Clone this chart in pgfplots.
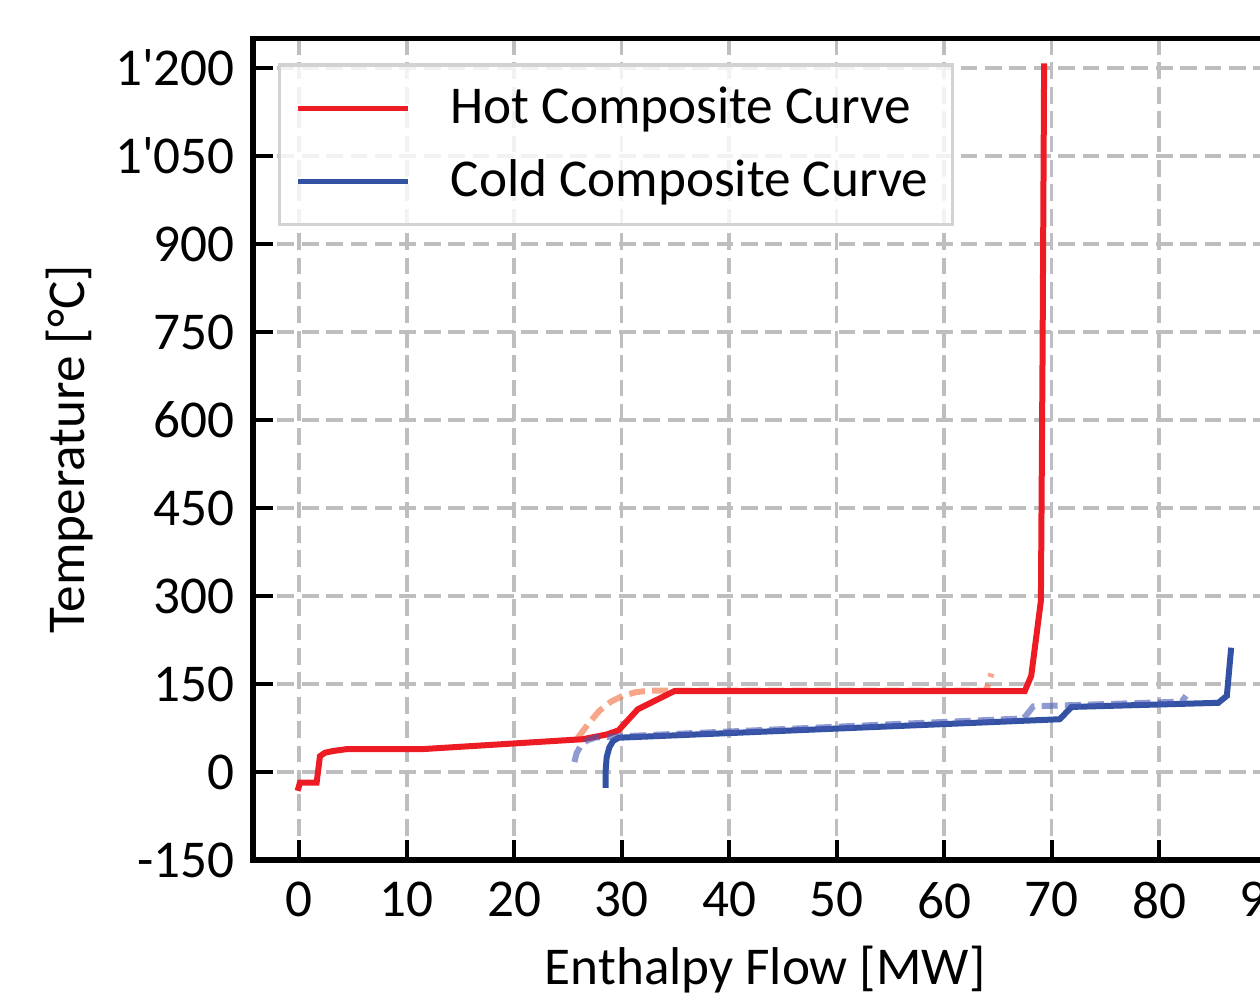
\documentclass[border=0pt]{standalone}
\usepackage{fontspec}
\setmainfont{Carlito}[Ligatures=TeXOff]
\usepackage{pgfplots}
\pgfplotsset{compat=1.18}
\definecolor{hotred}{RGB}{237,28,36}
\definecolor{coldblue}{RGB}{51,82,163}
\definecolor{hotshift}{RGB}{244,128,88}
\definecolor{coldshift}{RGB}{70,88,180}
\definecolor{gridgray}{RGB}{190,190,193}
\begin{document}
\begin{tikzpicture}
\begin{axis}[scale only axis,width=256.1pt,height=205.3pt,
  xmin=-4.3,xmax=91,ymin=-150,ymax=1250,
  font=\fontsize{13.3}{16}\selectfont,
  xtick={0,10,...,90},xticklabels={0,10,20,30,40,50,60,70,80,90},
  ytick={-150,0,150,300,450,600,750,900,1050,1200},
  yticklabels={-150,0,150,300,450,600,750,900,1'050,1'200},
  xtick pos=bottom,ytick pos=left,tick align=inside,
  major tick length=5pt,tick style={black,line width=1pt},
  axis line style={black,line width=1.3pt},
  grid=major,grid style={gridgray,line width=0.9pt,dash pattern=on 4.2pt off 1.9pt},
  xticklabel style={yshift=-2pt},yticklabel style={xshift=-1pt},
  xlabel={Enthalpy Flow [MW]},ylabel={Temperature [°C]},
  xlabel style={at={(axis description cs:0.5,-0.133)},anchor=center},
  ylabel style={at={(axis description cs:-0.179,0.5)},anchor=center},
  legend cell align=left,
  legend image code/.code={\draw[#1,line width=1.3pt] (0pt,0pt) -- (27.5pt,0pt);},
  legend style={at={(axis description cs:0.0244,0.97)},anchor=north west,
    draw=gray!35,line width=0.8pt,fill=white,fill opacity=0.8,text opacity=1,draw opacity=1,
    inner xsep=4pt,inner ysep=3.5pt,row sep=3.5pt,nodes={inner sep=2pt},
    /tikz/every odd column/.append style={column sep=8pt}},
]
% shifted hot curve, drawn under the solid one
\addplot[hotshift,opacity=0.7,line width=1.5pt,dash pattern=on 4pt off 1.8pt,forget plot] coordinates {(25.9,58) (26.8,80) (27.9,104) (29.0,120) (30.1,130) (31.3,136) (32.6,139) (34.9,139) (63.9,139) (64.4,168)};
\addplot[hotred,line width=1.5pt] coordinates {(-0.15,-32) (0.07,-18) (1.62,-18) (1.93,27) (2.4,33) (3.2,36) (4.4,39) (11.4,39) (26.4,56) (28.6,64) (29.7,71) (31.5,107) (34.9,138) (67.5,138) (68.1,164) (69.0,292) (69.15,700) (69.3,1208)};
\addlegendentry{Hot Composite Curve}
\addplot[coldblue,line width=1.5pt] coordinates {(28.5,-27) (28.5,0) (28.6,25) (28.85,42) (29.2,53) (29.7,58.5) (70.75,90) (71.85,111) (85.5,118) (86.3,130) (86.7,212)};
\addlegendentry{Cold Composite Curve}
\addplot[coldshift,opacity=0.6,line width=1.5pt,dash pattern=on 4pt off 1.8pt,forget plot] coordinates {(25.6,17) (25.8,32) (26.2,45) (26.8,54) (27.6,59) (67.4,91.5) (68.3,112) (82.1,120) (82.5,130)};
\end{axis}
\pgfresetboundingbox
\useasboundingbox (-63.25pt,-35pt) rectangle (251.75pt,215pt);
\end{tikzpicture}
\end{document}
